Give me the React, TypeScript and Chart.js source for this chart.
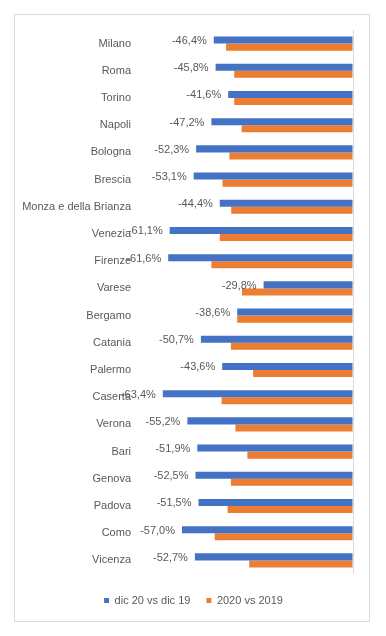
import React, { useEffect, useRef } from 'react';
import { Chart, registerables } from 'chart.js';

Chart.register(...registerables);

const categories = [
  'Milano', 'Roma', 'Torino', 'Napoli', 'Bologna', 'Brescia', 'Monza e della Brianza',
  'Venezia', 'Firenze', 'Varese', 'Bergamo', 'Catania', 'Palermo', 'Caserta', 'Verona',
  'Bari', 'Genova', 'Padova', 'Como', 'Vicenza',
];

const series1Name = 'dic 20 vs dic 19';
const series2Name = '2020 vs 2019';

const dic20vsDic19 = [
  -46.4, -45.8, -41.6, -47.2, -52.3, -53.1, -44.4, -61.1, -61.6, -29.8,
  -38.6, -50.7, -43.6, -63.4, -55.2, -51.9, -52.5, -51.5, -57.0, -52.7,
];

const y2020vs2019 = [
  -42.3, -39.6, -39.6, -37.1, -41.2, -43.5, -40.6, -44.4, -47.2, -37.0,
  -38.6, -40.7, -33.3, -43.8, -39.2, -35.2, -40.7, -41.8, -46.1, -34.6,
];

const xMin = -72;
const xMax = 0;

const FONT = '"Liberation Sans", Arial, sans-serif';
const TEXT = '#595959';
const BLUE = '#4472C4';
const ORANGE = '#ED7D31';

const fmt = (v: number) => v.toFixed(1).replace('.', ',') + '%';

const framePlugin = {
  id: 'frame',
  beforeDraw(chart: any) {
    const ctx = chart.ctx;
    ctx.save();
    ctx.fillStyle = '#ffffff';
    ctx.fillRect(0, 0, chart.width, chart.height);
    ctx.strokeStyle = '#d9d9d9';
    ctx.lineWidth = 1;
    ctx.strokeRect(14.5, 14.5, 355, 607);
    ctx.restore();
  },
};

const legendShiftPlugin = {
  id: 'legendShift',
  afterLayout(chart: any) {
    const lg = chart.legend;
    if (lg) {
      lg.left += 17;
      lg.right += 17;
    }
  },
};

const labelPlugin = {
  id: 'barLabels',
  afterDatasetsDraw(chart: any) {
    const ctx = chart.ctx;
    const meta = chart.getDatasetMeta(0);
    ctx.save();
    ctx.font = `11px ${FONT}`;
    ctx.fillStyle = TEXT;
    ctx.textAlign = 'right';
    ctx.textBaseline = 'middle';
    meta.data.forEach((bar: any, i: number) => {
      ctx.fillText(fmt(dic20vsDic19[i]), bar.x - 7, bar.y + 1);
    });
    ctx.restore();
  },
};

export default function App() {
  const ref = useRef<HTMLCanvasElement>(null);

  useEffect(() => {
    if (!ref.current) return;
    const chart = new Chart(ref.current, {
      type: 'bar',
      data: {
        labels: categories,
        datasets: [
          {
            label: series1Name,
            data: dic20vsDic19,
            backgroundColor: BLUE,
            borderWidth: 0,
            categoryPercentage: 0.52,
            barPercentage: 1.0,
          },
          {
            label: series2Name,
            data: y2020vs2019,
            backgroundColor: ORANGE,
            borderWidth: 0,
            categoryPercentage: 0.52,
            barPercentage: 1.0,
          },
        ],
      },
      options: {
        indexAxis: 'y',
        responsive: false,
        animation: false,
        devicePixelRatio: 1,
        layout: { padding: { left: 0, right: 33, top: 30, bottom: 20 } },
        scales: {
          x: {
            min: xMin,
            max: xMax,
            ticks: { display: false },
            border: { display: false },
            grid: {
              drawTicks: false,
              color: (c: any) => (c.tick && c.tick.value === 0 ? '#d9d9d9' : 'rgba(0,0,0,0)'),
            },
            afterFit: (s: any) => { s.height = 5; },
          },
          y: {
            ticks: { color: TEXT, font: { family: FONT, size: 11 }, padding: 6 },
            grid: { display: false, drawTicks: false },
            border: { display: false },
            afterFit: (s: any) => { s.width = 137; },
          },
        },
        plugins: {
          legend: {
            position: 'bottom',
            labels: {
              boxWidth: 5,
              boxHeight: 5,
              padding: 16,
              color: TEXT,
              font: { family: FONT, size: 11 },
            },
          },
          tooltip: { enabled: false },
        },
      },
      plugins: [framePlugin, legendShiftPlugin, labelPlugin],
    });
    return () => chart.destroy();
  }, []);

  return (
    <div style={{ position: 'fixed', left: 0, top: 0, width: 386, height: 636, background: '#fff' }}>
      <canvas ref={ref} width={386} height={636} style={{ display: 'block' }} />
    </div>
  );
}
